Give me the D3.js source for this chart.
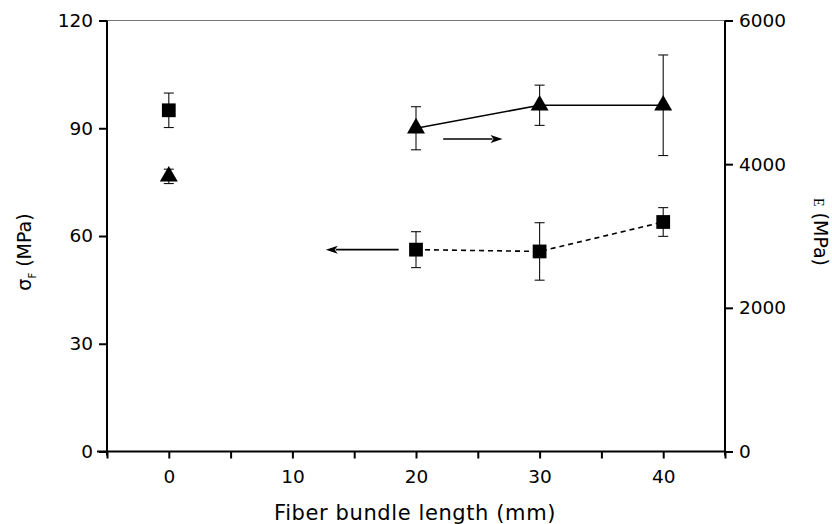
<!DOCTYPE html>
<html>
<head>
<meta charset="utf-8">
<script src="https://cdn.jsdelivr.net/npm/d3@7"></script>
<style>
  body { margin: 0; background: #fff; }
  text { font-family: "DejaVu Sans", "Liberation Sans", sans-serif; fill: #000; }
</style>
</head>
<body>
<svg id="chart" width="832" height="524"></svg>
<script>
// Fiber bundle length (mm)
const lengths = [0, 20, 30, 40];

// Flexural strength σF (MPa), left axis
const strength = [95, 56.2, 55.7, 63.9];
const strengthErr = [4.8, 5.0, 8.0, 4.0];

// Flexural modulus E (MPa), right axis
const modulus = [3830, 4500, 4820, 4820];
const modulusErr = [100, 300, 280, 700];

// Axis ticks
const xTicks = [-5, 0, 5, 10, 15, 20, 25, 30, 35, 40, 45];
const xTickLabels = ["", "0", "", "10", "", "20", "", "30", "", "40", ""];
const leftTicks = [0, 30, 60, 90, 120];
const rightTicks = [0, 2000, 4000, 6000];

// Arrows pointing each series to its own axis: [x from, x to, value]
const arrowToLeft = [18.6, 12.7, 56.2];
const arrowToRight = [22.2, 27.0, 4350];

const svg = d3.select("#chart");
const plotLeft = 107, plotRight = 725, plotTop = 20.5, plotBottom = 451.5;
const font = '"DejaVu Sans", "Liberation Sans", sans-serif';

const x = d3.scaleLinear().domain([-5, 45]).range([plotLeft, plotRight]);
const yL = d3.scaleLinear().domain([0, 120]).range([plotBottom, plotTop]);
const yR = d3.scaleLinear().domain([0, 6000]).range([plotBottom, plotTop]);

// top frame line
svg.append("line")
  .attr("x1", plotLeft).attr("x2", plotRight)
  .attr("y1", plotTop).attr("y2", plotTop)
  .attr("stroke", "#777").attr("stroke-width", 1);

function styleAxis(g) {
  g.select(".domain").attr("stroke", "#000").attr("stroke-width", 2);
  g.selectAll(".tick line").attr("stroke", "#000").attr("stroke-width", 2);
  g.selectAll(".tick text")
    .style("font-family", font)
    .attr("font-size", 18.5).attr("fill", "#000");
}

// bottom axis
const gx = svg.append("g")
  .attr("transform", `translate(0,${plotBottom})`)
  .call(d3.axisBottom(x).tickValues(xTicks)
    .tickFormat((d, i) => xTickLabels[i])
    .tickSize(7).tickSizeOuter(0).tickPadding(11));
styleAxis(gx);
gx.select(".domain").attr("d", `M${plotLeft - 10},0H${plotRight}`);

// left axis
const gl = svg.append("g")
  .attr("transform", `translate(${plotLeft},0)`)
  .call(d3.axisLeft(yL).tickValues(leftTicks).tickFormat(d3.format("d"))
    .tickSize(8).tickSizeOuter(0).tickPadding(6));
styleAxis(gl);
gl.select(".domain").attr("d", `M0,${plotTop}V${plotBottom + 4}`);

// right axis
const gr = svg.append("g")
  .attr("transform", `translate(${plotRight},0)`)
  .call(d3.axisRight(yR).tickValues(rightTicks).tickFormat(d3.format("d"))
    .tickSize(8).tickSizeOuter(0).tickPadding(6));
styleAxis(gr);
gr.select(".domain").attr("d", `M0,${plotTop}V${plotBottom + 4}`);

// axis titles
svg.append("text")
  .attr("x", 415).attr("y", 520)
  .attr("text-anchor", "middle")
  .attr("font-size", 21)
  .attr("letter-spacing", 0.6)
  .text("Fiber bundle length (mm)");

const yTitle = svg.append("text")
  .attr("transform", "translate(31,252) rotate(-90)")
  .attr("text-anchor", "middle")
  .attr("font-size", 19);
yTitle.append("tspan").text("σ");
yTitle.append("tspan").attr("font-size", 10).attr("dy", 5).text("F");
yTitle.append("tspan").attr("dy", -5).text(" (MPa)");

const rTitle = svg.append("text")
  .attr("transform", "translate(814,232) rotate(90)")
  .attr("text-anchor", "middle")
  .attr("font-size", 19);
rTitle.append("tspan").style("font-family", '"Liberation Serif", serif').attr("font-size", 14).text("E");
rTitle.append("tspan").text(" (MPa)");

// series data
const sq = lengths.map((d, i) => ({x: d, y: strength[i], e: strengthErr[i]}));
const tri = lengths.map((d, i) => ({x: d, y: modulus[i], e: modulusErr[i]}));

// connecting lines (0 mm point stands alone)
svg.append("path")
  .datum(tri.slice(1))
  .attr("fill", "none").attr("stroke", "#000").attr("stroke-width", 1.6)
  .attr("d", d3.line().x(d => x(d.x)).y(d => yR(d.y)));

svg.append("path")
  .datum(sq.slice(1))
  .attr("fill", "none").attr("stroke", "#000").attr("stroke-width", 1.6)
  .attr("stroke-dasharray", "5,4")
  .attr("d", d3.line().x(d => x(d.x)).y(d => yL(d.y)));

// error bars
function errorBars(data, y) {
  const g = svg.append("g").attr("stroke", "#111").attr("stroke-width", 1.1);
  data.forEach(d => {
    const cx = x(d.x), y1 = y(d.y + d.e), y2 = y(d.y - d.e);
    g.append("line").attr("x1", cx).attr("x2", cx).attr("y1", y1).attr("y2", y2);
    g.append("line").attr("x1", cx - 5).attr("x2", cx + 5).attr("y1", y1).attr("y2", y1);
    g.append("line").attr("x1", cx - 5).attr("x2", cx + 5).attr("y1", y2).attr("y2", y2);
  });
}
errorBars(sq, yL);
errorBars(tri, yR);

// markers
svg.append("g").selectAll("path")
  .data(sq).join("path")
  .attr("transform", d => `translate(${x(d.x)},${yL(d.y)})`)
  .attr("d", d3.symbol(d3.symbolSquare, 190)())
  .attr("fill", "#000");

svg.append("g").selectAll("path")
  .data(tri).join("path")
  .attr("transform", d => `translate(${x(d.x)},${yR(d.y)})`)
  .attr("d", d3.symbol(d3.symbolTriangle, 140)())
  .attr("fill", "#000");

// arrows
function arrow(x1, x2, sy) {
  const sx1 = x(x1), sx2 = x(x2);
  const dir = Math.sign(sx2 - sx1);
  svg.append("line")
    .attr("x1", sx1).attr("x2", sx2 - dir * 10)
    .attr("y1", sy).attr("y2", sy)
    .attr("stroke", "#000").attr("stroke-width", 1.6);
  svg.append("path")
    .attr("d", `M${sx2},${sy}L${sx2 - dir * 12},${sy - 4}L${sx2 - dir * 9},${sy}L${sx2 - dir * 12},${sy + 4}Z`)
    .attr("fill", "#000");
}
arrow(arrowToLeft[0], arrowToLeft[1], yL(arrowToLeft[2]));
arrow(arrowToRight[0], arrowToRight[1], yR(arrowToRight[2]));
</script>
</body>
</html>
